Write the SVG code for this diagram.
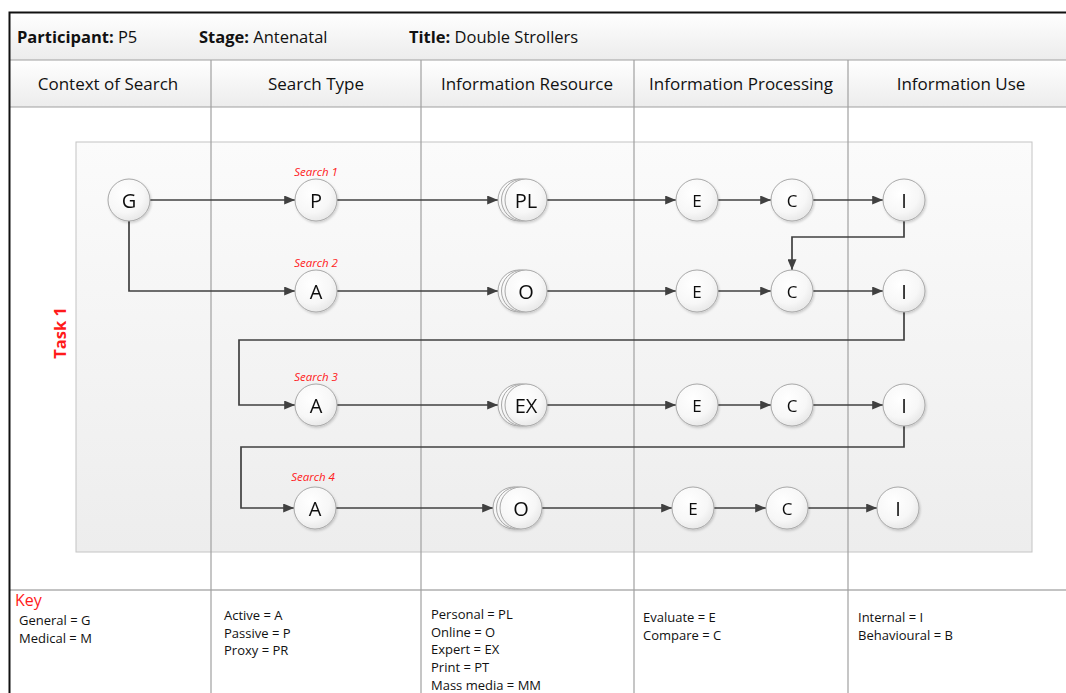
<svg xmlns="http://www.w3.org/2000/svg" width="1066" height="693" viewBox="0 0 1066 693">
  <defs>
    <linearGradient id="hdr" x1="0" y1="0" x2="0" y2="1">
      <stop offset="0" stop-color="#ffffff"/>
      <stop offset="1" stop-color="#ececec"/>
    </linearGradient>
    <linearGradient id="panel" x1="0" y1="0" x2="0" y2="1">
      <stop offset="0" stop-color="#fbfbfb"/>
      <stop offset="1" stop-color="#ededed"/>
    </linearGradient>
    <radialGradient id="ball" cx="0.4" cy="0.35" r="0.75">
      <stop offset="0" stop-color="#ffffff"/>
      <stop offset="0.6" stop-color="#f7f7f7"/>
      <stop offset="1" stop-color="#e2e2e2"/>
    </radialGradient>
    <marker id="arr" viewBox="0 0 12 10" refX="12" refY="5" markerWidth="11" markerHeight="9" orient="auto" markerUnits="userSpaceOnUse">
      <path d="M0,0 L12,5 L0,10 z" fill="#404040"/>
    </marker>
    <filter id="sh" x="-30%" y="-30%" width="160%" height="160%">
      <feDropShadow dx="1" dy="1.5" stdDeviation="1" flood-color="#000" flood-opacity="0.18"/>
    </filter>
  </defs>
  <style>
    .t { font-family: "Open Sans", "Liberation Sans", sans-serif; fill: #111; }
    .hd { font-size: 17px; text-anchor: middle; }
    .top { font-size: 16.5px; }
    .lbl { font-size: 20px; text-anchor: middle; dominant-baseline: central; }
    .sm { font-size: 17px; }
    .srch { font-family: "Open Sans", "Liberation Sans", sans-serif; font-size: 11.5px; font-style: italic; fill: #ff2020; text-anchor: middle; }
    .key { font-size: 13px; }
    .node circle { fill: url(#ball); stroke: #a8a8a8; stroke-width: 1; }
    .grid { stroke: #a0a0a0; stroke-width: 1.2; fill: none; }
    .conn path { fill: none; stroke: #404040; stroke-width: 1.7; marker-end: url(#arr); }
  </style>

  <rect x="0" y="0" width="1066" height="693" fill="#ffffff"/>

  <!-- header bands -->
  <rect x="10" y="12" width="1060" height="48" fill="url(#hdr)"/>
  <rect x="10" y="60" width="1060" height="47" fill="url(#hdr)"/>

  <!-- task panel -->
  <rect x="76" y="142" width="956" height="410" fill="url(#panel)" stroke="#c4c4c4" stroke-width="1"/>

  <!-- table grid -->
  <g id="grid" class="grid">
    <line x1="10" y1="60" x2="1066" y2="60"/>
    <line x1="10" y1="107" x2="1066" y2="107"/>
    <line x1="10" y1="590" x2="1066" y2="590" stroke="#888"/>
    <line x1="211" y1="60" x2="211" y2="693"/>
    <line x1="421" y1="60" x2="421" y2="693"/>
    <line x1="634" y1="60" x2="634" y2="693"/>
    <line x1="848" y1="60" x2="848" y2="693"/>
  </g>
  <!-- outer frame -->
  <path d="M9.5,693 V12.5 H1066" fill="none" stroke="#111" stroke-width="2"/>

  <!-- header texts -->
  <text class="t top" x="17" y="43"><tspan font-weight="bold">Participant:</tspan> P5</text>
  <text class="t top" x="199" y="43"><tspan font-weight="bold">Stage:</tspan> Antenatal</text>
  <text class="t top" x="409" y="43"><tspan font-weight="bold">Title:</tspan> Double Strollers</text>

  <text class="t hd" x="108" y="90">Context of Search</text>
  <text class="t hd" x="316" y="90">Search Type</text>
  <text class="t hd" x="527" y="90">Information Resource</text>
  <text class="t hd" x="741" y="90">Information Processing</text>
  <text class="t hd" x="961" y="90">Information Use</text>

  <!-- task label -->
  <text x="59" y="333" transform="rotate(-90 59 333)" text-anchor="middle" dominant-baseline="central" font-family="Open Sans, Liberation Sans, sans-serif" font-weight="bold" font-size="16.5" fill="#ff1a1a">Task 1</text>

  <!-- search labels -->
  <text class="srch" x="316" y="176">Search 1</text>
  <text class="srch" x="316" y="267">Search 2</text>
  <text class="srch" x="316" y="381">Search 3</text>
  <text class="srch" x="313" y="481">Search 4</text>

  <!-- connectors -->
  <g id="connectors" class="conn">
    <path d="M150,200 H295"/>
    <path d="M129,221 V291 H295"/>
    <path d="M337,200 H498"/>
    <path d="M547,200 H676"/>
    <path d="M718,200 H771"/>
    <path d="M813,200 H883"/>
    <path d="M904,221 V237 H792 V270"/>

    <path d="M337,291 H498"/>
    <path d="M547,291 H676"/>
    <path d="M718,291 H771"/>
    <path d="M813,291 H883"/>
    <path d="M904,312 V340 H239 V405 H295"/>

    <path d="M337,405 H498"/>
    <path d="M547,405 H676"/>
    <path d="M718,405 H771"/>
    <path d="M813,405 H883"/>
    <path d="M904,426 V447 H241 V508 H294"/>

    <path d="M336,508 H493"/>
    <path d="M542,508 H672"/>
    <path d="M714,508 H766"/>
    <path d="M808,508 H877"/>
  </g>

  <!-- row 1 -->
  <g id="n-G" class="node" filter="url(#sh)"><circle cx="129" cy="200" r="21"/><text class="t lbl" x="129" y="200">G</text></g>
  <g id="n-P1" class="node" filter="url(#sh)"><circle cx="316" cy="200" r="21"/><text class="t lbl" x="316" y="200">P</text></g>
  <g id="n-PL1" class="node" filter="url(#sh)">
    <circle cx="519" cy="200" r="21"/><circle cx="522.5" cy="200" r="21"/><circle cx="526" cy="200" r="21"/>
    <text class="t lbl" x="526" y="200">PL</text>
  </g>
  <g id="n-E1" class="node" filter="url(#sh)"><circle cx="697" cy="200" r="21"/><text class="t lbl sm" x="697" y="200">E</text></g>
  <g id="n-C1" class="node" filter="url(#sh)"><circle cx="792" cy="200" r="21"/><text class="t lbl sm" x="792" y="200">C</text></g>
  <g id="n-I1" class="node" filter="url(#sh)"><circle cx="904" cy="200" r="21"/><text class="t lbl" x="904" y="200">I</text></g>

  <!-- row 2 -->
  <g id="n-A2" class="node" filter="url(#sh)"><circle cx="316" cy="291" r="21"/><text class="t lbl" x="316" y="291">A</text></g>
  <g id="n-O2" class="node" filter="url(#sh)">
    <circle cx="519" cy="291" r="21"/><circle cx="522.5" cy="291" r="21"/><circle cx="526" cy="291" r="21"/>
    <text class="t lbl" x="526" y="291">O</text>
  </g>
  <g id="n-E2" class="node" filter="url(#sh)"><circle cx="697" cy="291" r="21"/><text class="t lbl sm" x="697" y="291">E</text></g>
  <g id="n-C2" class="node" filter="url(#sh)"><circle cx="792" cy="291" r="21"/><text class="t lbl sm" x="792" y="291">C</text></g>
  <g id="n-I2" class="node" filter="url(#sh)"><circle cx="904" cy="291" r="21"/><text class="t lbl" x="904" y="291">I</text></g>

  <!-- row 3 -->
  <g id="n-A3" class="node" filter="url(#sh)"><circle cx="316" cy="405" r="21"/><text class="t lbl" x="316" y="405">A</text></g>
  <g id="n-EX3" class="node" filter="url(#sh)">
    <circle cx="519" cy="405" r="21"/><circle cx="522.5" cy="405" r="21"/><circle cx="526" cy="405" r="21"/>
    <text class="t lbl" x="526" y="405">EX</text>
  </g>
  <g id="n-E3" class="node" filter="url(#sh)"><circle cx="697" cy="405" r="21"/><text class="t lbl sm" x="697" y="405">E</text></g>
  <g id="n-C3" class="node" filter="url(#sh)"><circle cx="792" cy="405" r="21"/><text class="t lbl sm" x="792" y="405">C</text></g>
  <g id="n-I3" class="node" filter="url(#sh)"><circle cx="904" cy="405" r="21"/><text class="t lbl" x="904" y="405">I</text></g>

  <!-- row 4 -->
  <g id="n-A4" class="node" filter="url(#sh)"><circle cx="315" cy="508" r="21"/><text class="t lbl" x="315" y="508">A</text></g>
  <g id="n-O4" class="node" filter="url(#sh)">
    <circle cx="514" cy="508" r="21"/><circle cx="517.5" cy="508" r="21"/><circle cx="521" cy="508" r="21"/>
    <text class="t lbl" x="521" y="508">O</text>
  </g>
  <g id="n-E4" class="node" filter="url(#sh)"><circle cx="693" cy="508" r="21"/><text class="t lbl sm" x="693" y="508">E</text></g>
  <g id="n-C4" class="node" filter="url(#sh)"><circle cx="787" cy="508" r="21"/><text class="t lbl sm" x="787" y="508">C</text></g>
  <g id="n-I4" class="node" filter="url(#sh)"><circle cx="898" cy="508" r="21"/><text class="t lbl" x="898" y="508">I</text></g>

  <!-- key -->
  <text x="15" y="606" font-family="Open Sans, Liberation Sans, sans-serif" font-size="16" fill="#ff1a1a">Key</text>
  <g class="t key">
    <text x="19" y="625">General = G</text>
    <text x="19" y="643">Medical = M</text>

    <text x="224" y="620">Active = A</text>
    <text x="224" y="638">Passive  = P</text>
    <text x="224" y="655">Proxy = PR</text>

    <text x="431" y="619">Personal = PL</text>
    <text x="431" y="637">Online = O</text>
    <text x="431" y="654">Expert = EX</text>
    <text x="431" y="672">Print = PT</text>
    <text x="431" y="690">Mass media = MM</text>

    <text x="643" y="622">Evaluate = E</text>
    <text x="643" y="640">Compare = C</text>

    <text x="858" y="622">Internal = I</text>
    <text x="858" y="640">Behavioural = B</text>
  </g>
</svg>
